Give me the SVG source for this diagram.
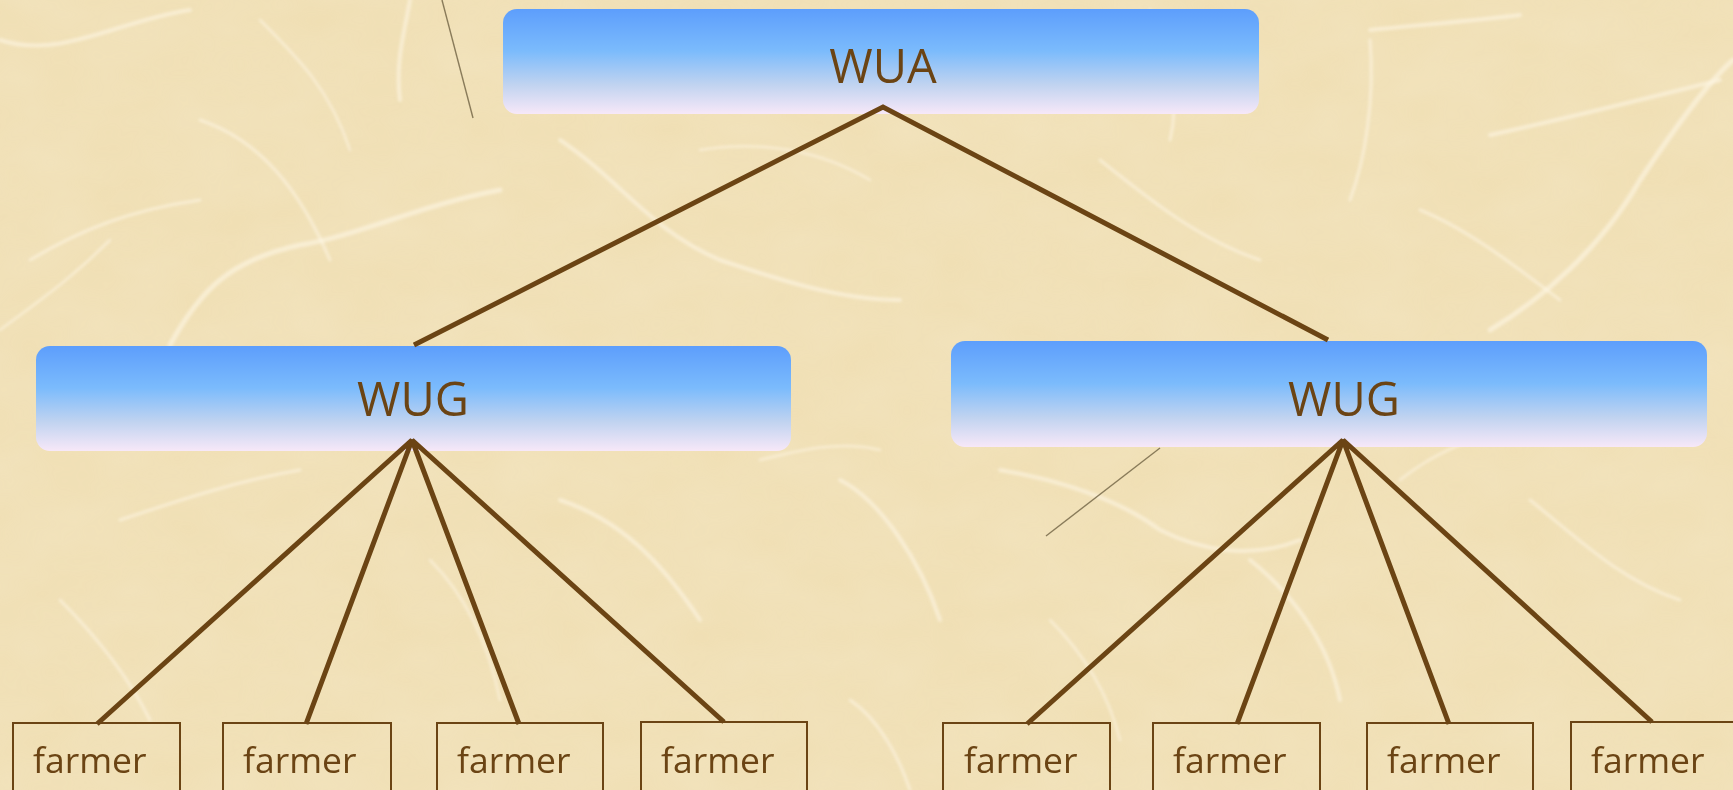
<svg xmlns="http://www.w3.org/2000/svg" width="1733" height="790" viewBox="0 0 1733 790">
  <defs>
    <linearGradient id="boxFill" x1="0" y1="0" x2="0" y2="1">
      <stop offset="0" stop-color="#5d9efc"/>
      <stop offset="0.4" stop-color="#7bbbfc"/>
      <stop offset="0.72" stop-color="#c0d3f0"/>
      <stop offset="1" stop-color="#f7e8f8"/>
    </linearGradient>
    <filter id="soft" x="-5%" y="-5%" width="110%" height="110%">
      <feGaussianBlur stdDeviation="1.8"/>
    </filter>
    <filter id="grain" x="0" y="0" width="100%" height="100%">
      <feTurbulence type="fractalNoise" baseFrequency="0.012 0.02" numOctaves="3" seed="7" result="n"/>
      <feColorMatrix in="n" type="matrix" values="0 0 0 0 0.93  0 0 0 0 0.85  0 0 0 0 0.66  0 0 0 0.5 -0.05"/>
    </filter>
    <style>
      .node { fill: url(#boxFill); }
      .title { font-family: "Open Sans", Lato, sans-serif; font-size: 47px; fill: #6b4414; text-anchor: middle; }
      .leaf rect { fill: none; stroke: #6b4414; stroke-width: 2; }
      .leaf text { font-family: "Open Sans", Lato, sans-serif; font-size: 35.5px; fill: #6b4414; }
      .link { stroke: #6b4414; stroke-width: 5; fill: none; stroke-linecap: butt; }
      .fiber { fill: none; stroke: #fdf6e6; stroke-linecap: round; opacity: 0.6; }
      .scratch { fill: none; stroke: #6f6242; stroke-width: 1.4; opacity: 0.8; }
    </style>
  </defs>

  <!-- paper background -->
  <g id="paper">
    <rect x="0" y="0" width="1733" height="790" fill="#f0dfb4"/>
    <rect x="0" y="0" width="1733" height="790" filter="url(#grain)" opacity="0.6"/>
    <g filter="url(#soft)">
      <path class="fiber" stroke-width="4" d="M0 40 C60 60 120 20 190 10"/>
      <path class="fiber" stroke-width="5" d="M170 345 C200 290 230 260 300 245 C360 235 420 205 500 190"/>
      <path class="fiber" stroke-width="4" d="M400 100 C395 60 405 30 410 0"/>
      <path class="fiber" stroke-width="3" d="M200 120 C260 140 300 190 330 260"/>
      <path class="fiber" stroke-width="3" d="M30 260 C80 230 130 210 200 200"/>
      <path class="fiber" stroke-width="4" d="M560 140 C620 180 650 230 720 260 C780 280 840 300 900 300"/>
      <path class="fiber" stroke-width="4" d="M1370 30 C1420 25 1480 20 1520 15"/>
      <path class="fiber" stroke-width="5" d="M1490 330 C1540 300 1600 250 1640 180 C1680 120 1710 80 1733 60"/>
      <path class="fiber" stroke-width="4" d="M1490 135 C1560 120 1640 100 1720 80"/>
      <path class="fiber" stroke-width="3" d="M1370 40 C1375 100 1365 160 1350 200"/>
      <path class="fiber" stroke-width="3" d="M1420 210 C1470 230 1520 270 1560 300"/>
      <path class="fiber" stroke-width="4" d="M1000 470 C1060 480 1120 500 1160 530 C1200 550 1250 560 1300 540"/>
      <path class="fiber" stroke-width="4" d="M840 480 C880 500 920 560 940 620"/>
      <path class="fiber" stroke-width="3" d="M120 520 C180 500 240 480 300 470"/>
      <path class="fiber" stroke-width="4" d="M560 500 C620 520 660 560 700 620"/>
      <path class="fiber" stroke-width="3" d="M850 700 C880 720 900 760 910 790"/>
      <path class="fiber" stroke-width="4" d="M1250 560 C1300 600 1330 650 1340 700"/>
      <path class="fiber" stroke-width="3" d="M1530 500 C1580 540 1620 580 1680 600"/>
      <path class="fiber" stroke-width="3" d="M60 600 C100 640 130 680 150 720"/>
      <path class="fiber" stroke-width="3" d="M1100 160 C1150 200 1200 240 1260 260"/>
      <path class="fiber" stroke-width="3" d="M1150 10 C1170 60 1180 100 1170 140"/>
      <path class="fiber" stroke-width="2.5" d="M0 330 C40 300 70 280 110 240"/>
      <path class="fiber" stroke-width="2.5" d="M260 20 C300 60 330 90 350 150"/>
      <path class="fiber" stroke-width="2.5" d="M700 150 C760 140 820 150 870 180"/>
      <path class="fiber" stroke-width="2.5" d="M1400 480 C1450 440 1500 430 1560 420"/>
      <path class="fiber" stroke-width="2.5" d="M430 560 C470 600 490 650 500 700"/>
      <path class="fiber" stroke-width="2.5" d="M1050 620 C1090 660 1110 700 1120 740"/>
      <path class="fiber" stroke-width="2.5" d="M760 460 C800 450 840 440 880 450"/>
    </g>
    <path class="scratch" d="M442 0 L473 118"/>
    <path class="scratch" d="M1160 448 L1046 536"/>
  </g>

  <!-- tiers -->
  <g id="wua">
    <rect class="node" x="503" y="9" width="756" height="105" rx="14"/>
    <text class="title" x="883" y="83">WUA</text>
  </g>
  <g id="wug-left">
    <rect class="node" x="36" y="346" width="755" height="105" rx="14"/>
    <text class="title" x="413" y="416">WUG</text>
  </g>
  <g id="wug-right">
    <rect class="node" x="951" y="341" width="756" height="106" rx="14"/>
    <text class="title" x="1344" y="416">WUG</text>
  </g>

  <!-- farmer leaves -->
  <g id="farmer-1" class="leaf"><rect x="13" y="723" width="167" height="80"/><text x="33" y="773">farmer</text></g>
  <g id="farmer-2" class="leaf"><rect x="223" y="723" width="168" height="80"/><text x="243" y="773">farmer</text></g>
  <g id="farmer-3" class="leaf"><rect x="437" y="723" width="166" height="80"/><text x="457" y="773">farmer</text></g>
  <g id="farmer-4" class="leaf"><rect x="641" y="722" width="166" height="80"/><text x="661" y="773">farmer</text></g>
  <g id="farmer-5" class="leaf"><rect x="943" y="723" width="167" height="80"/><text x="964" y="773">farmer</text></g>
  <g id="farmer-6" class="leaf"><rect x="1153" y="723" width="167" height="80"/><text x="1173" y="773">farmer</text></g>
  <g id="farmer-7" class="leaf"><rect x="1367" y="723" width="166" height="80"/><text x="1387" y="773">farmer</text></g>
  <g id="farmer-8" class="leaf"><rect x="1571" y="722" width="167" height="80"/><text x="1591" y="773">farmer</text></g>

  <!-- connectors, drawn over the boxes so the apexes show -->
  <g id="connectors">
    <path class="link" d="M414 345 L883 107 L1328 340"/>
    <path class="link" d="M97 724 L412 440 L306 724"/>
    <path class="link" d="M519 724 L412 440 L724 722"/>
    <path class="link" d="M1027 724 L1343 440 L1237 724"/>
    <path class="link" d="M1449 724 L1343 440 L1652 722"/>
  </g>
</svg>
